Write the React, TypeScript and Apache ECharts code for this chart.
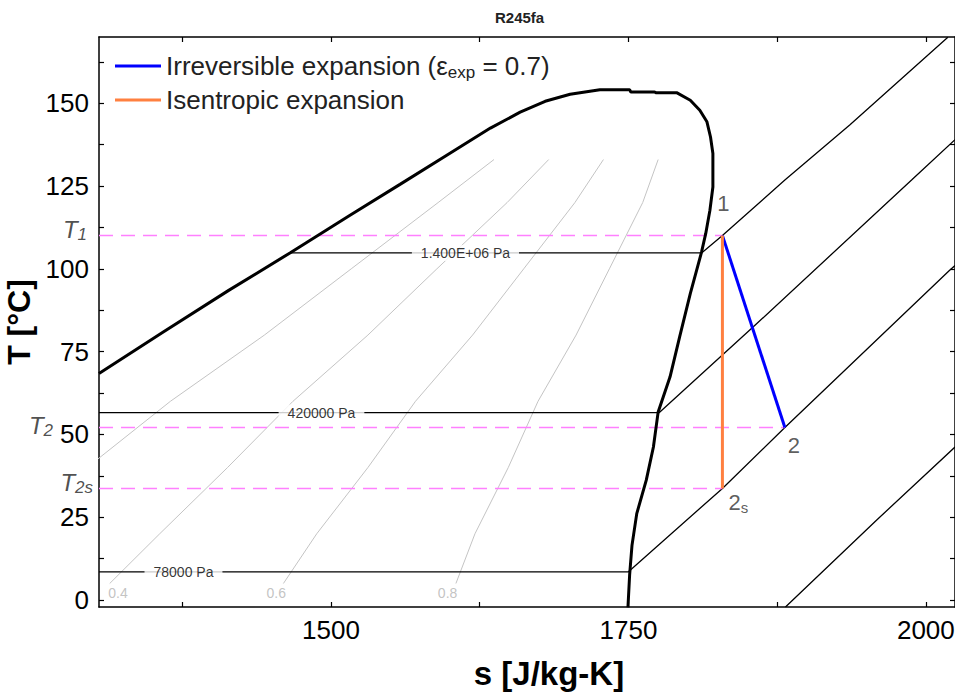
import React, { useEffect, useRef } from "react";
import * as echarts from "echarts";

const FONT = '"Liberation Sans", Arial, Helvetica, sans-serif';

// Axis ranges and ticks
const sMin = 1305;
const sMax = 2024.5;
const tMin = -2.1;
const tMax = 170;
const xTickValues = [1375, 1500, 1625, 1750, 1875, 2000];
const xLabelValues = [1500, 1750, 2000];
const yTickValues = [0, 12.5, 25, 37.5, 50, 62.5, 75, 87.5, 100, 112.5, 125, 137.5, 150, 162.5];
const yLabelValues = [0, 25, 50, 75, 100, 125, 150];

// Saturation dome (liquid side then vapour side), s [J/kg-K], T [°C]
const satS = [1305, 1359, 1414, 1465.5, 1516, 1558, 1600, 1634, 1659, 1680, 1701, 1726, 1751, 1752, 1772, 1773, 1790.5, 1802, 1810, 1816, 1819, 1821, 1821, 1818.5, 1815, 1811.5, 1802, 1793, 1785, 1775, 1771, 1765, 1757, 1753, 1751, 1749.6];
const satT = [68.4, 80.9, 93.5, 104.8, 116.2, 125.5, 134.9, 142.5, 147.3, 150.6, 152.7, 154.1, 154.1, 153.4, 153.4, 153.2, 153.2, 150.9, 147.9, 144.4, 139.8, 134.8, 124.7, 117.7, 110.7, 105.1, 92.5, 79.4, 67.4, 56.8, 46.2, 36.2, 26.1, 16.5, 7.5, -2.2];

// Isobars
const p1400S = [1465.5, 1811.5, 1829, 1881.5, 1936, 2018.5];
const p1400T = [104.8, 104.8, 110.1, 126.8, 143.4, 169.9];
const p420S = [1305, 1776, 1855, 1988, 2024.5];
const p420T = [56.6, 56.6, 82.5, 126.8, 139];
const p78S = [1305, 1749.8, 1829, 1881.5, 2020, 2024.5];
const p78T = [8.5, 8.5, 33.7, 52.1, 99.6, 101];
const pLowS = [1882, 1958.5, 2024.5];
const pLowT = [-2.1, 24.1, 46.2];

// Isobar labels
const isobarLabels = ["1.400E+06 Pa", "420000 Pa", "78000 Pa"];
const isobarLabelS = [1613, 1492, 1376];
const isobarLabelT = [104.8, 56.6, 8.5];

// Quality lines (x = 0.2, 0.4, 0.6, 0.8)
const qualityT = [5, 20, 40, 60, 80, 100, 120, 133];
const q02S = [1169, 1223, 1295, 1365, 1444, 1517, 1590, 1637];
const q04S = [1314, 1356, 1413, 1468, 1531, 1589, 1648, 1683];
const q06S = [1460, 1488, 1531, 1571, 1619, 1662, 1705, 1729];
const q08S = [1605, 1621, 1649, 1674, 1706, 1734, 1762, 1775];
const qualityLabels = ["0.4", "0.6", "0.8"];
const qualityLabelS = [1321, 1454, 1598];
const qualityLabelT = [2, 2, 2];

// Expansion state points
const point1 = [1829, 110.1];
const point2 = [1881.5, 52.1];
const point2s = [1829, 33.7];

const irrName = "Irreversible expansion (εexp = 0.7)";
const isoName = "Isentropic expansion";

const zip = (s: number[], t: number[]) => s.map((v, i) => [v, t[i]]);

export default function App() {
  const ref = useRef<HTMLDivElement>(null);

  useEffect(() => {
    if (!ref.current) return;
    const chart = echarts.init(ref.current, undefined, { renderer: "svg" });

    const blackLine = (name: string, data: number[][], width: number, z = 3) => ({
      type: "line",
      name,
      data,
      symbol: "none",
      silent: true,
      z,
      lineStyle: { color: "#000", width },
    });

    const qualityLine = (name: string, s: number[]) => ({
      type: "line",
      name,
      data: zip(s, qualityT),
      symbol: "none",
      silent: true,
      z: 2,
      lineStyle: { color: "#c4c4c4", width: 1 },
    });

    const dashed = (name: string, end: number[]) => ({
      type: "line",
      name,
      data: [
        [sMin, end[1]],
        [end[0], end[1]],
      ],
      symbol: "none",
      silent: true,
      z: 4,
      lineStyle: { color: "#ff80ff", width: 1.5, type: [14, 8] },
    });

    const tLabelNames = ["1", "2", "2s"];
    const tLabelPoints = [point1, point2, point2s];
    const tLabelStyle = [
      { distance: 12, offset: [0, -6] },
      { distance: 46, offset: [0, -2] },
      { distance: 6, offset: [0, -6] },
    ];

    const stateNames = ["1", "2", "2s"];
    const stateOffsets = [
      [1, -32],
      [9, 18],
      [16, 14],
    ];

    const axisBase = {
      type: "value",
      axisLine: { show: true, onZero: false, lineStyle: { color: "#000", width: 1.5 } },
      splitLine: { show: false },
    };

    const option: any = {
      animation: false,
      backgroundColor: "#fff",
      textStyle: { fontFamily: FONT },
      title: {
        text: "R245fa",
        left: 490,
        top: 5,
        textStyle: { fontFamily: FONT, fontSize: 15, fontWeight: "bold", color: "#222" },
      },
      legend: {
        data: [irrName, isoName],
        orient: "vertical",
        left: 115,
        top: 51,
        padding: 0,
        itemWidth: 46,
        itemHeight: 3,
        itemGap: 4,
        icon: "rect",
        selectedMode: false,
        formatter: (name: string) =>
          name === irrName
            ? "{a|Irreversible expansion (ε}{s|exp}{a| = 0.7)}"
            : "{a|Isentropic expansion}",
        textStyle: {
          fontFamily: FONT,
          fontSize: 26,
          color: "#222",
          lineHeight: 30,
          rich: {
            a: { fontFamily: FONT, fontSize: 26, color: "#222", lineHeight: 30 },
            s: { fontFamily: FONT, fontSize: 17, color: "#222", lineHeight: 17, verticalAlign: "bottom" },
          },
        },
      },
      grid: { left: 99, right: 0, top: 37, bottom: 91, containLabel: false, outerBoundsMode: "none" },
      xAxis: [
        {
          ...axisBase,
          min: sMin,
          max: sMax,
          name: "s [J/kg-K]",
          nameLocation: "middle",
          nameGap: 50,
          nameTextStyle: { fontFamily: FONT, fontSize: 33, fontWeight: "bold", color: "#000", padding: [0, 0, 0, 44] },
          axisTick: { show: true, inside: true, length: 5, customValues: xTickValues, lineStyle: { color: "#000", width: 1.2 } },
          axisLabel: {
            show: true,
            customValues: xLabelValues,
            margin: 10,
            fontFamily: FONT,
            fontSize: 26,
            color: "#000",
            formatter: (v: number) => String(v),
          },
        },
        {
          ...axisBase,
          position: "top",
          min: sMin,
          max: sMax,
          axisTick: { show: true, inside: true, length: 5, customValues: xTickValues, lineStyle: { color: "#000", width: 1.2 } },
          axisLabel: { show: false },
        },
      ],
      yAxis: [
        {
          ...axisBase,
          min: tMin,
          max: tMax,
          name: "T [°C]",
          nameLocation: "middle",
          nameGap: 43,
          nameTextStyle: { fontFamily: FONT, fontSize: 32, fontWeight: "bold", color: "#000" },
          axisTick: { show: true, inside: true, length: 5, customValues: yTickValues, lineStyle: { color: "#000", width: 1.2 } },
          axisLabel: {
            show: true,
            customValues: yLabelValues,
            margin: 10,
            fontFamily: FONT,
            fontSize: 26,
            color: "#000",
            formatter: (v: number) => String(v),
          },
        },
        {
          ...axisBase,
          position: "right",
          min: tMin,
          max: tMax,
          axisTick: { show: true, inside: true, length: 5, customValues: yTickValues, lineStyle: { color: "#000", width: 1.2 } },
          axisLabel: { show: false },
        },
      ],
      series: [
        qualityLine("x = 0.2", q02S),
        qualityLine("x = 0.4", q04S),
        qualityLine("x = 0.6", q06S),
        qualityLine("x = 0.8", q08S),
        {
          type: "scatter",
          name: "quality labels",
          silent: true,
          symbolSize: 0,
          z: 5,
          data: qualityLabels.map((n, i) => ({ name: n, value: [qualityLabelS[i], qualityLabelT[i]] })),
          label: {
            show: true,
            position: "inside",
            formatter: (p: any) => p.name,
            fontFamily: FONT,
            fontSize: 14,
            color: "#b4b4b4",
          },
        },
        blackLine("1.400E+06 Pa", zip(p1400S, p1400T), 1.3),
        blackLine("420000 Pa", zip(p420S, p420T), 1.3),
        blackLine("78000 Pa", zip(p78S, p78T), 1.3),
        blackLine("isobar", zip(pLowS, pLowT), 1.3),
        {
          type: "scatter",
          name: "isobar labels",
          silent: true,
          symbolSize: 0,
          z: 6,
          data: isobarLabels.map((n, i) => ({ name: n, value: [isobarLabelS[i], isobarLabelT[i]] })),
          label: {
            show: true,
            position: "inside",
            formatter: (p: any) => p.name,
            fontFamily: FONT,
            fontSize: 14,
            color: "#000",
            backgroundColor: "#fff",
            padding: [1, 9],
          },
        },
        blackLine("saturation", zip(satS, satT), 3, 7),
        dashed("T1", point1),
        dashed("T2", point2),
        dashed("T2s", point2s),
        {
          type: "line",
          name: irrName,
          data: [point1, point2],
          symbol: "none",
          silent: true,
          z: 8,
          color: "#0000ff",
          lineStyle: { color: "#0000ff", width: 3 },
        },
        {
          type: "line",
          name: isoName,
          data: [point1, point2s],
          symbol: "none",
          silent: true,
          z: 8,
          color: "#ff8040",
          lineStyle: { color: "#ff8040", width: 3 },
        },
        {
          type: "scatter",
          name: "T labels",
          silent: true,
          symbolSize: 0,
          z: 9,
          data: tLabelPoints.map((p, i) => ({
            name: tLabelNames[i],
            value: [sMin, p[1]],
            label: { distance: tLabelStyle[i].distance, offset: tLabelStyle[i].offset },
          })),
          label: {
            show: true,
            position: "left",
            formatter: (p: any) => `{t|T}{s|${p.name}}`,
            rich: {
              t: { fontFamily: FONT, fontSize: 24, fontStyle: "italic", color: "#222", lineHeight: 28 },
              s: { fontFamily: FONT, fontSize: 17, fontStyle: "italic", color: "#222", lineHeight: 17, verticalAlign: "bottom" },
            },
          },
        },
        {
          type: "scatter",
          name: "state labels",
          silent: true,
          symbolSize: 0,
          z: 9,
          data: [point1, point2, point2s].map((p, i) => ({
            name: stateNames[i],
            value: p,
            label: { offset: stateOffsets[i] },
          })),
          label: {
            show: true,
            position: "inside",
            formatter: (p: any) => (p.name === "2s" ? "{n|2}{s|s}" : `{n|${p.name}}`),
            rich: {
              n: { fontFamily: FONT, fontSize: 22, color: "#333", lineHeight: 26 },
              s: { fontFamily: FONT, fontSize: 15, color: "#333", lineHeight: 15, verticalAlign: "bottom" },
            },
          },
        },
      ],
    };

    chart.setOption(option);
    return () => chart.dispose();
  }, []);

  return (
    <div
      ref={ref}
      style={{ position: "fixed", left: 0, top: 0, width: 955, height: 698, background: "#fff" }}
    />
  );
}
